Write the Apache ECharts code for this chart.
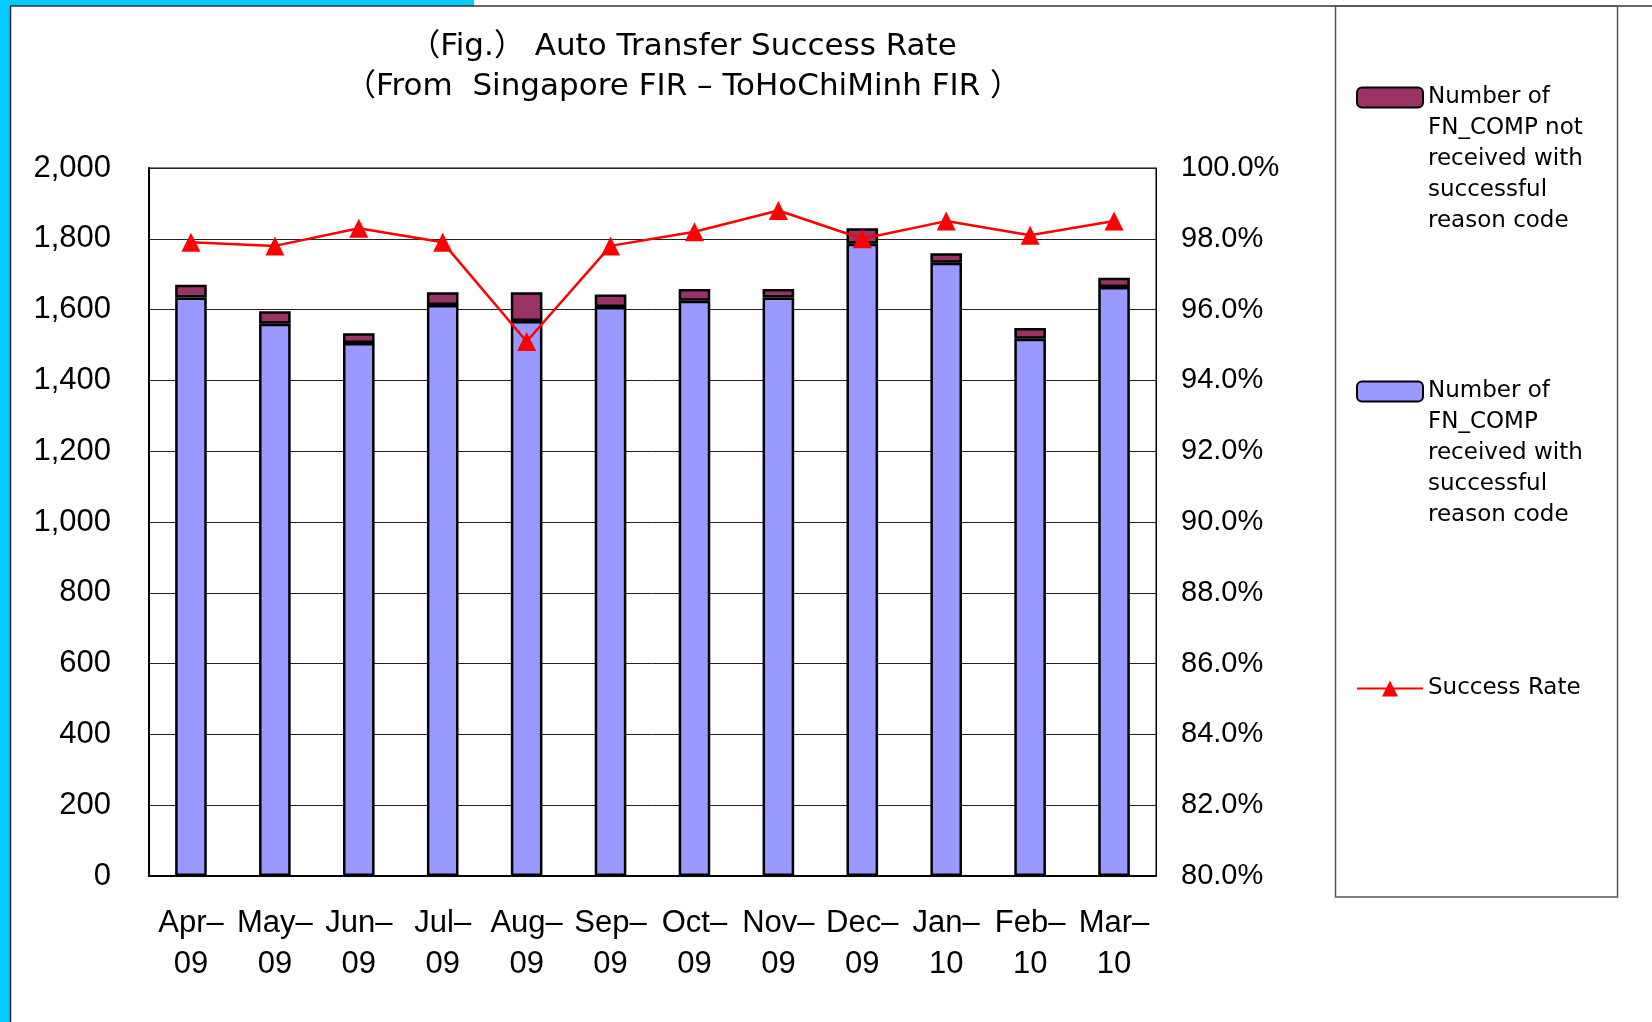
<!DOCTYPE html>
<html>
<head>
<meta charset="utf-8">
<script src="https://cdn.jsdelivr.net/npm/echarts@6/dist/echarts.min.js"></script>
<style>
  html, body { margin: 0; padding: 0; background: #fff; }
  #chart { width: 1652px; height: 1022px; }
</style>
</head>
<body>
<div id="chart"></div>
<script>
// months on the x axis
const months = ["Apr–\n09", "May–\n09", "Jun–\n09", "Jul–\n09", "Aug–\n09", "Sep–\n09",
  "Oct–\n09", "Nov–\n09", "Dec–\n09", "Jan–\n10", "Feb–\n10", "Mar–\n10"];
// FN_COMP received with successful reason code
const receivedOk = [1634, 1560, 1506, 1613, 1568, 1607, 1625, 1634, 1786, 1732, 1518, 1664];
// FN_COMP not received with successful reason code
const notReceived = [36, 35, 27, 36, 81, 36, 33, 24, 44, 27, 30, 26];
// success rate (%)
const successRate = [97.9, 97.8, 98.3, 97.9, 95.1, 97.8, 98.2, 98.8, 98.0, 98.5, 98.1, 98.5];

const nameNot = "Number of\nFN_COMP not\nreceived with\nsuccessful\nreason code";
const nameOk = "Number of\nFN_COMP\nreceived with\nsuccessful\nreason code";
const nameRate = "Success Rate";

const font = "'Liberation Sans', 'Noto Sans CJK JP', sans-serif";
const titleFont = "'DejaVu Sans', 'Noto Sans CJK JP', sans-serif";
const legendFont = "'DejaVu Sans', sans-serif";

const chart = echarts.init(document.getElementById("chart"));

const legendBase = {
  orient: "vertical",
  left: 1356,
  padding: 0,
  itemWidth: 66,
  itemHeight: 20,
  selectedMode: false,
  textStyle: { fontFamily: legendFont, fontSize: 23, lineHeight: 31, color: "#000" },
};
// blank lines first so the icon sits level with the first text line
const topAligned = (name) => "\n\n\n\n" + name;

const option = {
  backgroundColor: "#fff",
  animation: false,
  title: {
    text: "（Fig.） Auto Transfer Success Rate\n（From  Singapore FIR – ToHoChiMinh FIR ）",
    left: 678,
    top: 22,
    textAlign: "center",
    textStyle: { fontFamily: titleFont, fontSize: 31, fontWeight: "normal", lineHeight: 40, color: "#000", align: "center" },
  },
  legend: [
    Object.assign({}, legendBase, { top: -42, data: [nameNot], formatter: topAligned }),
    Object.assign({}, legendBase, { top: 252, data: [nameOk], formatter: topAligned }),
    Object.assign({}, legendBase, { top: 673, data: [nameRate] }),
  ],
  grid: {
    left: 149,
    right: 496,
    top: 168,
    bottom: 146,
    show: true,
    borderColor: "#000",
    borderWidth: 1,
  },
  xAxis: {
    type: "category",
    data: months,
    axisLine: { lineStyle: { color: "#000", width: 2 } },
    axisTick: { inside: true, length: 9, lineStyle: { color: "#000" } },
    axisLabel: { fontFamily: font, fontSize: 31, lineHeight: 41, color: "#000", margin: 27, interval: 0 },
  },
  yAxis: [
    {
      type: "value",
      min: 0,
      max: 2000,
      interval: 200,
      axisLine: { show: true, lineStyle: { color: "#000", width: 2 } },
      axisTick: { show: false },
      splitLine: { lineStyle: { color: "#222", width: 1 } },
      axisLabel: {
        fontFamily: font, fontSize: 31, color: "#000", margin: 38,
        formatter: (v) => v.toLocaleString("en-US"),
      },
    },
    {
      type: "value",
      min: 80,
      max: 100,
      interval: 2,
      position: "right",
      axisLine: { show: true, lineStyle: { color: "#000", width: 1 } },
      axisTick: { show: false },
      splitLine: { show: false },
      axisLabel: {
        fontFamily: font, fontSize: 29, color: "#000", margin: 25,
        formatter: (v) => v.toFixed(1) + "%",
      },
    },
  ],
  series: [
    {
      name: nameOk,
      type: "bar",
      stack: "total",
      barWidth: 31.6,
      data: receivedOk,
      itemStyle: { color: "#9999FF", borderColor: "#000", borderWidth: 2.5 },
    },
    {
      name: nameNot,
      type: "bar",
      stack: "total",
      barWidth: 31.6,
      data: notReceived,
      itemStyle: { color: "#993366", borderColor: "#000", borderWidth: 2.5 },
    },
    {
      name: nameRate,
      type: "line",
      yAxisIndex: 1,
      data: successRate,
      symbol: "triangle",
      symbolSize: 19,
      z: 5,
      itemStyle: { color: "#FF0000" },
      lineStyle: { color: "#FF0000", width: 2.5 },
    },
  ],
  graphic: [
    { type: "rect", shape: { x: 0, y: 0, width: 10, height: 1022 }, style: { fill: "#00CCFF" }, silent: true },
    { type: "rect", shape: { x: 0, y: 0, width: 474, height: 6 }, style: { fill: "#00CCFF" }, silent: true },
    { type: "line", shape: { x1: 10.5, y1: 6, x2: 10.5, y2: 1022 }, style: { stroke: "#222", lineWidth: 1.5 }, silent: true },
    { type: "line", shape: { x1: 10, y1: 6, x2: 1652, y2: 6 }, style: { stroke: "#333", lineWidth: 1.5 }, silent: true },
    { type: "rect", shape: { x: 1335.5, y: 6, width: 282, height: 891 }, style: { fill: "none", stroke: "#555", lineWidth: 1.5 }, silent: true },
  ],
};

chart.setOption(option);
</script>
</body>
</html>
